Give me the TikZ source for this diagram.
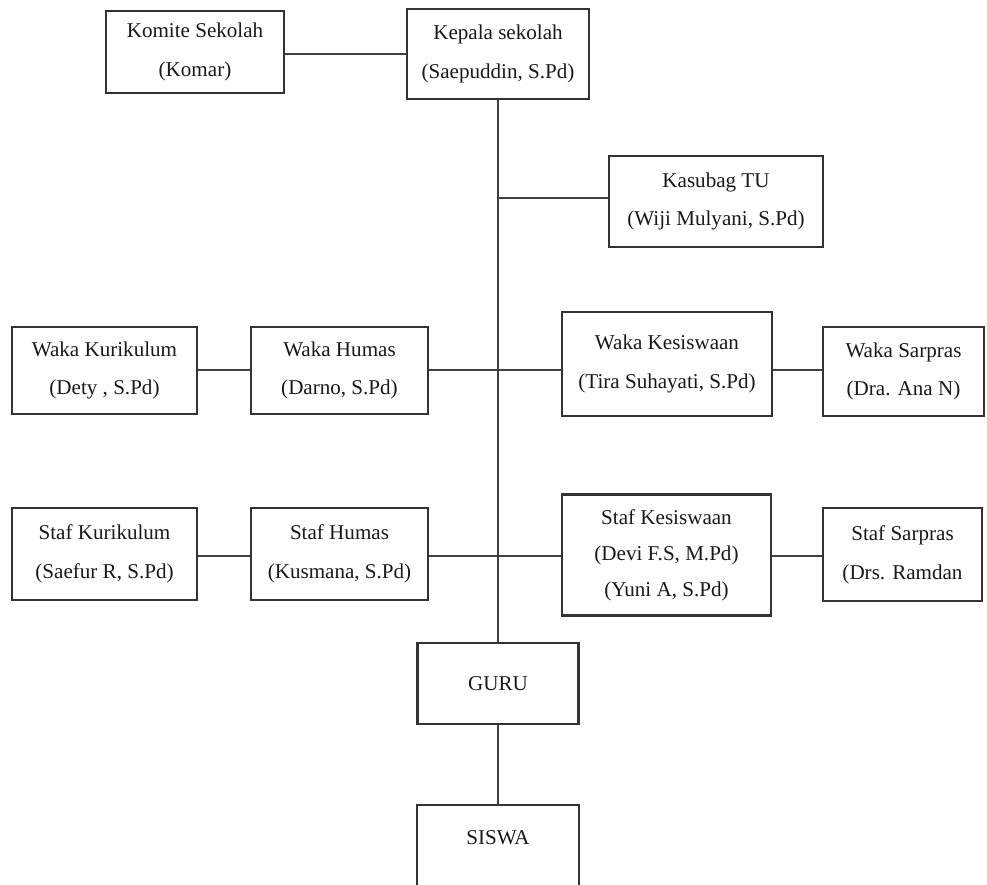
\documentclass[tikz,border=0pt]{standalone}
\usepackage{fontspec}
\setmainfont{Liberation Serif}
\begin{document}
\begin{tikzpicture}[x=0.02cm,y=-0.02cm,
  orgbox/.style={draw=black!80, line width=1.3pt, fill=white, inner sep=0pt,
    align=center, text=black!90, font=\fontsize{12}{22}\selectfont},
  link/.style={draw=black!75, line width=1.1pt}]
\useasboundingbox[fill=white] (0,0) rectangle (987,885);

\node[orgbox, minimum width=3.56cm, minimum height=1.64cm] (komite) at (195,52) {Komite Sekolah\\(Komar)};
\node[orgbox, minimum width=3.64cm, minimum height=1.80cm] (kepala) at (498,54) {Kepala sekolah\\(Saepuddin, S.Pd)};
\node[orgbox, minimum width=4.28cm, minimum height=1.82cm] (kasubag) at (716,201.5) {Kasubag TU\\(Wiji Mulyani, S.Pd)};

\node[orgbox, minimum width=3.70cm, minimum height=1.74cm] (wkur) at (104.5,370.5) {Waka Kurikulum\\(Dety , S.Pd)};
\node[orgbox, minimum width=3.54cm, minimum height=1.74cm] (whum) at (339.5,370.5) {Waka Humas\\(Darno, S.Pd)};
\node[orgbox, minimum width=4.20cm, minimum height=2.08cm] (wkes) at (667,364) {Waka Kesiswaan\\(Tira Suhayati, S.Pd)};
\node[orgbox, minimum width=3.22cm, minimum height=1.78cm] (wsar) at (903.5,371.5) {Waka Sarpras\\(Dra. Ana N)};

\node[orgbox, minimum width=3.70cm, minimum height=1.84cm] (skur) at (104.5,554) {Staf Kurikulum\\(Saefur R, S.Pd)};
\node[orgbox, minimum width=3.54cm, minimum height=1.84cm] (shum) at (339.5,554) {Staf Humas\\(Kusmana, S.Pd)};
\node[orgbox, minimum width=4.18cm, minimum height=2.42cm] (skes) at (666.5,555) {Staf Kesiswaan\\[-1.5pt](Devi F.S, M.Pd)\\[-1.5pt](Yuni A, S.Pd)};
\node[orgbox, minimum width=3.18cm, minimum height=1.86cm] (ssar) at (902.5,554.5) {Staf Sarpras\\(Drs. Ramdan};

\node[orgbox, minimum width=3.22cm, minimum height=1.62cm] (guru) at (498,683.5) {GURU};
\node[orgbox, draw=none, fill=none, minimum width=3.20cm, minimum height=1.28cm] (siswa) at (498,838) {SISWA};
\draw[draw=black!80, line width=1.3pt] (siswa.north west) rectangle ([yshift=-1cm]siswa.south east);

\coordinate (kline) at (0,198);
\coordinate (wline) at (0,370);
\coordinate (sline) at (0,556);

\draw[link] (komite.east |- kepala.west) -- (kepala.west);
\draw[link] (kepala.south) -- (guru.north);
\draw[link] (kasubag.west |- kline) -- (kepala.south |- kline);
\draw[link] (wkur.east |- wline) -- (whum.west |- wline);
\draw[link] (whum.east |- wline) -- (wkes.west |- wline);
\draw[link] (wkes.east |- wline) -- (wsar.west |- wline);
\draw[link] (skur.east |- sline) -- (shum.west |- sline);
\draw[link] (shum.east |- sline) -- (skes.west |- sline);
\draw[link] (skes.east |- sline) -- (ssar.west |- sline);
\draw[link] (guru.south) -- (siswa.north);
\end{tikzpicture}
\end{document}
